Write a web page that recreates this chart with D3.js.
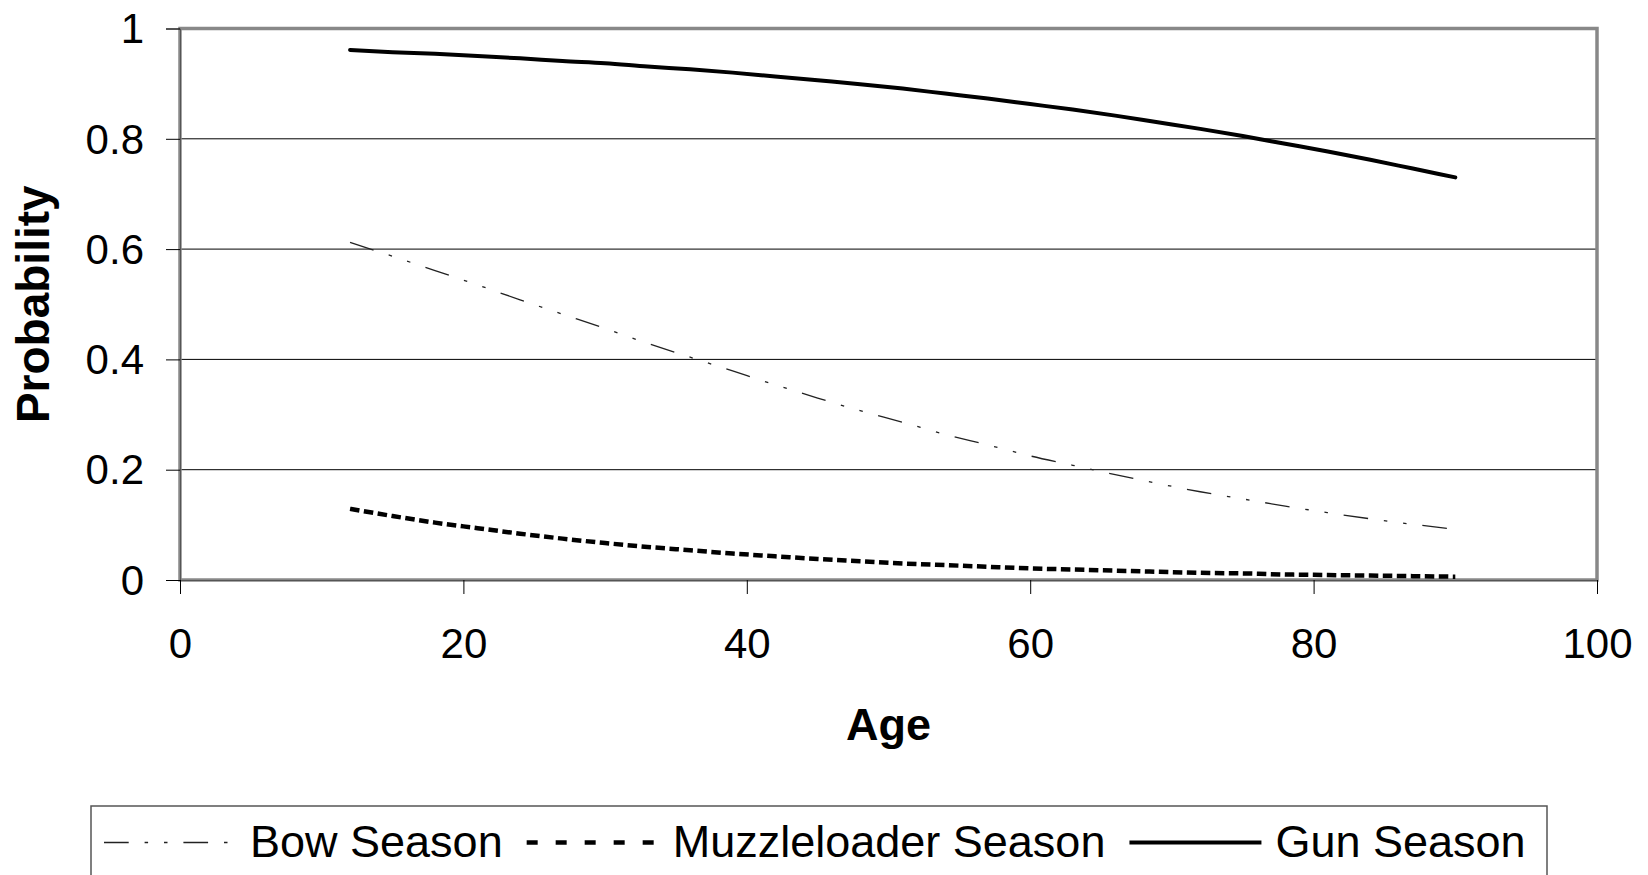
<!DOCTYPE html>
<html><head><meta charset="utf-8">
<script src="https://cdn.jsdelivr.net/npm/d3@7"></script>
<style>
body{margin:0;background:#fff}
svg{display:block}
text{font-family:"Liberation Sans",Arial,sans-serif;fill:#000}
</style>
</head><body>
<svg id="chart" width="1648" height="875"></svg>
<script>
const ages = [12,15,18,21,24,27,30,33,36,39,42,45,48,51,54,57,60,63,66,69,72,75,78,81,84,87,90];
const bowSeason = [0.612,0.587,0.561,0.535,0.508,0.482,0.456,0.429,0.404,0.379,0.354,0.330,0.307,0.286,0.264,0.245,0.225,0.208,0.191,0.175,0.160,0.147,0.134,0.122,0.111,0.101,0.092];
const muzzleloaderSeason = [0.129,0.116,0.104,0.094,0.084,0.075,0.067,0.060,0.054,0.048,0.043,0.038,0.034,0.030,0.027,0.024,0.021,0.019,0.017,0.015,0.013,0.012,0.010,0.009,0.008,0.007,0.006];
const gunSeason = [0.961,0.957,0.954,0.950,0.946,0.941,0.937,0.931,0.926,0.920,0.913,0.906,0.899,0.891,0.882,0.873,0.863,0.853,0.842,0.830,0.818,0.805,0.791,0.777,0.762,0.746,0.730];
const seriesNames = ["Bow Season","Muzzleloader Season","Gun Season"];
const xTickValues = [0,20,40,60,80,100];
const yTickValues = [0,0.2,0.4,0.6,0.8,1];
const yTickLabels = ["0","0.2","0.4","0.6","0.8","1"];
const xTitle = "Age";
const yTitle = "Probability";

const styles = [
  {stroke:"#222", width:1.3, dash:"24.7,15.9,3.5,15.9,3.5,15.9", legendDash:"24.7,15.9,3.5,15.9,3.5,15.9"},
  {stroke:"#000", width:4.5, dash:"9.5,4.5", legendDash:"11,18"},
  {stroke:"#000", width:4, dash:null, legendDash:null}
];

const svg = d3.select("#chart");
const L = 180, R = 1597, T = 28.5, B = 580;
const x = d3.scaleLinear().domain([0,100]).range([L,R]);
const y = d3.scaleLinear().domain([0,1]).range([B,T]);

// gridlines
svg.append("g").selectAll("line").data(yTickValues.filter(v=>v>0 && v<1)).join("line")
  .attr("x1",L).attr("x2",R).attr("y1",d=>y(d)).attr("y2",d=>y(d))
  .attr("stroke","#000").attr("stroke-width",1);

// plot frame
svg.append("rect").attr("x",L).attr("y",T).attr("width",R-L).attr("height",B-T)
  .attr("fill","none").attr("stroke","#888").attr("stroke-width",3.5);

// axes
const yAxis = d3.axisLeft(y).tickValues(yTickValues).tickSize(14).tickPadding(22)
  .tickFormat((d,i)=>yTickLabels[i]);
const gy = svg.append("g").attr("transform",`translate(${L},0)`).call(yAxis);
gy.select(".domain").attr("stroke","#555").attr("stroke-width",1);
gy.selectAll(".tick line").attr("stroke","#000");
gy.selectAll(".tick text").attr("font-size",42).attr("font-family","Liberation Sans, Arial, sans-serif").attr("dy","0.34em").attr("fill","#000");

const xAxis = d3.axisBottom(x).tickValues(xTickValues).tickSize(14).tickPadding(34).tickFormat(d3.format("d"));
const gx = svg.append("g").attr("transform",`translate(0,${B})`).call(xAxis);
gx.select(".domain").attr("stroke","#555").attr("stroke-width",1);
gx.selectAll(".tick line").attr("stroke","#000");
gx.selectAll(".tick text").attr("font-size",42).attr("font-family","Liberation Sans, Arial, sans-serif").attr("fill","#000");

// titles
svg.append("text").attr("x",(L+R)/2).attr("y",740).attr("text-anchor","middle")
  .attr("font-size",45).attr("font-weight","bold").text(xTitle);
svg.append("text").attr("transform",`translate(49,${(T+B)/2}) rotate(-90)`).attr("text-anchor","middle")
  .attr("font-size",46).attr("font-weight","bold").text(yTitle);

// series
const seriesData = [bowSeason, muzzleloaderSeason, gunSeason];
const line = d3.line().x((d,i)=>x(ages[i])).y(d=>y(d)).curve(d3.curveMonotoneX);
seriesData.forEach((vals,k)=>{
  const p = svg.append("path").datum(vals).attr("d",line)
    .attr("fill","none").attr("stroke",styles[k].stroke).attr("stroke-width",styles[k].width)
    .attr("stroke-linejoin","round").attr("stroke-linecap", k===2 ? "round" : "butt");
  if (styles[k].dash) p.attr("stroke-dasharray",styles[k].dash);
});

// legend
const lg = svg.append("g");
lg.append("rect").attr("x",91).attr("y",806).attr("width",1456).attr("height",80)
  .attr("fill","#fff").attr("stroke","#555").attr("stroke-width",1.5);
const lineLen = 132, g1 = 14, g2 = 24, fs = 45, ly = 842.5;
let cx = 104;
seriesNames.forEach((name,k)=>{
  const ln = lg.append("line").attr("x1",cx).attr("x2",cx+lineLen).attr("y1",ly).attr("y2",ly)
    .attr("stroke",styles[k].stroke).attr("stroke-width",styles[k].width);
  if (styles[k].legendDash) ln.attr("stroke-dasharray",styles[k].legendDash);
  cx += lineLen + g1;
  const t = lg.append("text").attr("x",cx).attr("y",857).attr("font-size",fs).text(name);
  cx += t.node().getComputedTextLength() + g2;
});
</script>
</body></html>
